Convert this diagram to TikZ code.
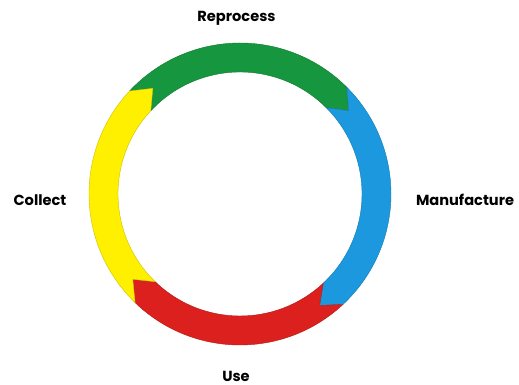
\documentclass[tikz,border=0pt]{standalone}
\usepackage{fontspec}
\setmainfont{Poppins}
\definecolor{cgreen}{RGB}{22,150,62}
\definecolor{cblue}{RGB}{28,152,222}
\definecolor{cyellow}{RGB}{255,240,0}
\definecolor{cred}{RGB}{220,32,30}
\begin{document}
\begin{tikzpicture}[x=1pt,y=1pt,
  lbl/.style={font=\bfseries\fontsize{14.6}{16}\selectfont, inner sep=0pt}]
\useasboundingbox (0,0) rectangle (519,385);
\def\Ro{151pt}\def\Ri{122pt}\def\Rm{137pt}\def\dd{7.5}
\newcommand{\seg}[3]{% tail angle, head angle, color
  \fill[#3, draw=#3!80!black, line width=0.4pt]
    (#1:\Ro) arc[start angle=#1, end angle=#2, radius=\Ro]
    -- ({#2-\dd}:\Rm) -- (#2:\Ri)
    arc[start angle=#2, end angle=#1, radius=\Ri]
    -- ({#1-\dd}:\Rm) -- cycle;}
\begin{scope}[shift={(240,191)}]
  \seg{137}{45}{cgreen}
  \seg{45}{-47}{cblue}
  \seg{-47}{-134}{cred}
  \seg{226}{137}{cyellow}
\end{scope}
\node[lbl] (rep) at (236.5,367) {Reprocess};
\node[lbl] (man) at (465,185) {Manufacture};
\node[lbl] (col) at (40,185) {Collect};
\node[lbl] (use) at (236,9) {Use};
\end{tikzpicture}
\end{document}
